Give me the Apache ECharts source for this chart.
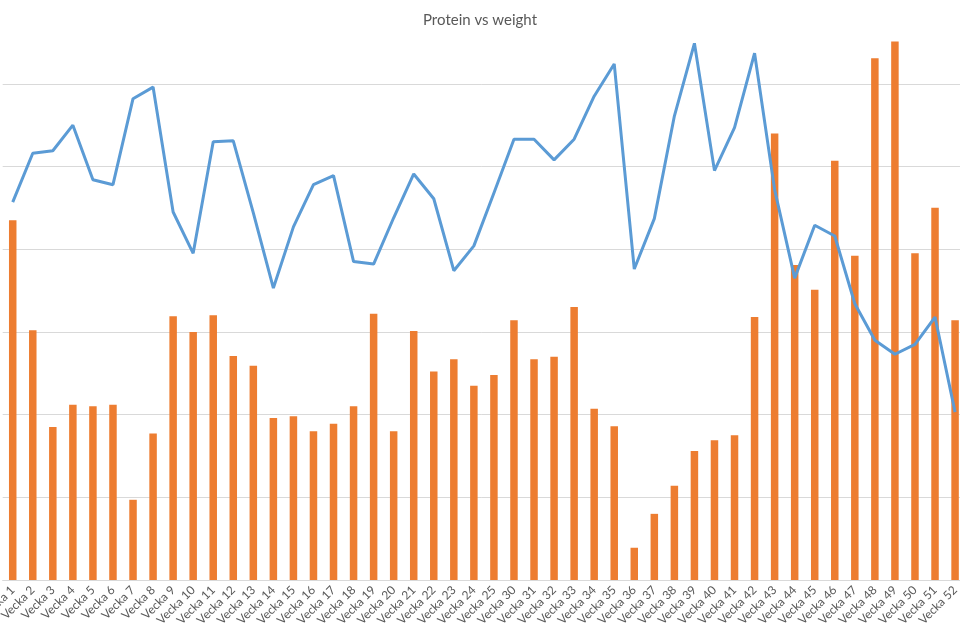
<!DOCTYPE html>
<html>
<head>
<meta charset="utf-8">
<script src="https://cdn.jsdelivr.net/npm/echarts@6/dist/echarts.min.js"></script>
<style>html,body{margin:0;padding:0;background:#fff}#c{width:960px;height:628px}</style>
</head>
<body>
<div id="c"></div>
<script>
const weeks = [1,2,3,4,5,6,7,8,9,10,11,12,13,14,15,16,17,18,19,20,21,22,23,24,25,30,31,32,33,34,35,36,37,38,39,40,41,42,43,44,45,46,47,48,49,50,51,52];
const categories = weeks.map(w => 'Vecka ' + w);
const protein = [4.35,3.02,1.85,2.12,2.10,2.12,0.97,1.77,3.19,3.00,3.20,2.71,2.59,1.96,1.98,1.80,1.89,2.10,3.22,1.80,3.01,2.52,2.67,2.35,2.48,3.14,2.67,2.70,3.30,2.07,1.86,0.39,0.80,1.14,1.56,1.69,1.75,3.18,5.40,3.81,3.51,5.07,3.92,6.31,6.51,3.95,4.50,3.14];
const weight = [4.57,5.16,5.19,5.50,4.84,4.78,5.82,5.96,4.45,3.95,5.30,5.31,4.44,3.53,4.27,4.78,4.89,3.85,3.82,4.38,4.91,4.61,3.74,4.04,4.68,5.33,5.33,5.08,5.33,5.85,6.24,3.76,4.37,5.61,6.49,4.95,5.47,6.37,4.72,3.65,4.29,4.16,3.34,2.90,2.73,2.85,3.18,2.03];

const chart = echarts.init(document.getElementById('c'), null, {renderer: 'canvas'});
chart.setOption({
  animation: false,
  backgroundColor: '#fff',
  title: {
    text: 'Protein vs weight', left: 'center', top: 8,
    textStyle: {fontFamily: 'Lato', fontSize: 15, fontWeight: 'normal', color: '#595959'}
  },
  grid: {left: 2.7, width: 962.4, top: 1.1, bottom: 48, containLabel: false, outerBoundsMode: 'none'},
  xAxis: {
    type: 'category', data: categories, boundaryGap: true,
    axisLine: {show: true, lineStyle: {color: '#d9d9d9', width: 1}},
    axisTick: {show: false},
    axisLabel: {interval: 0, rotate: 45, margin: 8, fontFamily: 'Lato', fontSize: 12, color: '#595959', hideOverlap: false}
  },
  yAxis: {
    type: 'value', min: 0, max: 7, interval: 1,
    axisLabel: {show: false}, axisLine: {show: false}, axisTick: {show: false},
    splitLine: {show: true, showMaxLine: false, lineStyle: {color: '#d9d9d9', width: 1}}
  },
  series: [
    {name: 'Protein', type: 'bar', data: protein, barWidth: 7.5, itemStyle: {color: '#ED7D31'}},
    {name: 'Weight', type: 'line', data: weight, symbol: 'none', lineStyle: {color: '#5B9BD5', width: 3}, z: 3}
  ]
});
</script>
</body>
</html>
